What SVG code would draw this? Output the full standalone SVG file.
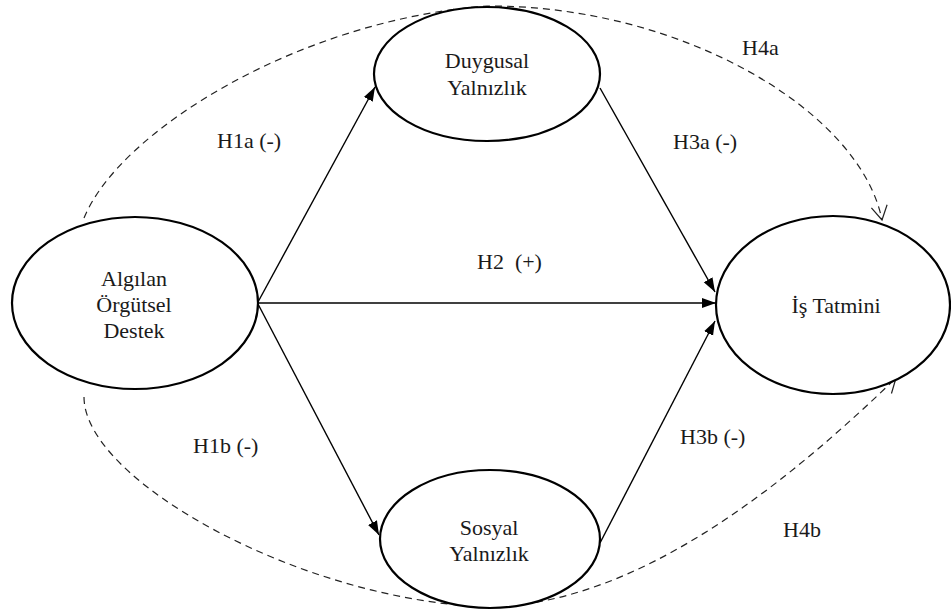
<svg xmlns="http://www.w3.org/2000/svg" width="951" height="612" viewBox="0 0 951 612">
<style>
.node ellipse{fill:#fff;stroke:#000;stroke-width:2.2}
.solid{fill:none;stroke:#000;stroke-width:1.4}
.dash{fill:none;stroke:#222;stroke-width:1.2;stroke-dasharray:7 5}
</style>
<defs>
<marker id="fa" markerUnits="userSpaceOnUse" markerWidth="16" markerHeight="12" refX="14" refY="6" orient="auto">
<path d="M0,1 L14,6 L0,11 Z" fill="#000"/>
</marker>
<marker id="oa" markerUnits="userSpaceOnUse" markerWidth="18" markerHeight="20" refX="15" refY="9" orient="auto">
<path d="M1,1 L15,9 L1,17" fill="none" stroke="#222" stroke-width="1.2"/>
</marker>
</defs>
<rect width="951" height="612" fill="#fff"/>
<g id="connectors">
<path class="dash" d="M84,218 C120,130 300,20 487,6 C680,5 860,110 882,220" marker-end="url(#oa)"/>
<path class="dash" d="M84,397 C84,480 300,600 487,607 C640,605 790,480 896,378" marker-end="url(#oa)"/>
<line class="solid" x1="258" y1="302" x2="375" y2="87" marker-end="url(#fa)"/>
<line class="solid" x1="258" y1="303" x2="716" y2="303" marker-end="url(#fa)"/>
<line class="solid" x1="258" y1="304" x2="379" y2="535" marker-end="url(#fa)"/>
<line class="solid" x1="600" y1="88" x2="715" y2="292" marker-end="url(#fa)"/>
<line class="solid" x1="600" y1="543" x2="715" y2="321" marker-end="url(#fa)"/>
</g>
<g font-family="Liberation Serif" font-size="22" fill="#1a1a1a">
<g id="n-algilan" class="node">
<ellipse cx="135" cy="303" rx="123" ry="86"/>
<text text-anchor="middle" x="134" y="286">Algılan</text>
<text text-anchor="middle" x="134" y="312">Örgütsel</text>
<text text-anchor="middle" x="134" y="338">Destek</text>
</g>
<g id="n-duygusal" class="node">
<ellipse cx="487" cy="74" rx="113" ry="67"/>
<text text-anchor="middle" x="487" y="68">Duygusal</text>
<text text-anchor="middle" x="487" y="95">Yalnızlık</text>
</g>
<g id="n-sosyal" class="node">
<ellipse cx="490" cy="539" rx="110" ry="69"/>
<text text-anchor="middle" x="489" y="535">Sosyal</text>
<text text-anchor="middle" x="489" y="561">Yalnızlık</text>
</g>
<g id="n-is" class="node">
<ellipse cx="833" cy="305" rx="117" ry="89"/>
<text text-anchor="middle" x="836" y="313">İş Tatmini</text>
</g>
<g id="labels">
<text x="217" y="148">H1a (-)</text>
<text x="477" y="269" xml:space="preserve">H2  (+)</text>
<text x="742" y="55">H4a</text>
<text x="673" y="149">H3a (-)</text>
<text x="193" y="453">H1b (-)</text>
<text x="680" y="444">H3b (-)</text>
<text x="783" y="537">H4b</text>
</g>
</g>
</svg>
